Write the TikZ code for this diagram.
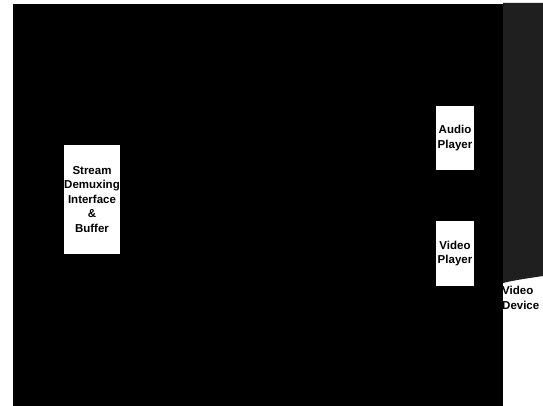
\documentclass[tikz,border=0pt]{standalone}
\usepackage{fontspec}
\setmainfont{Liberation Sans}
\begin{document}
\begin{tikzpicture}[x=1pt,y=-1pt,
  whitebox/.style={fill=white,draw=none,inner sep=0pt,align=center,
    font=\fontsize{11.5}{14.5}\selectfont\bfseries},
  plain/.style={inner sep=0pt,align=left,font=\fontsize{11.5}{14.5}\selectfont\bfseries}]
\useasboundingbox (0,0) rectangle (543,406);
\fill[white] (0,0) rectangle (543,406);
% speckled dark region at right
\fill[black!88] (503,3) -- (543,3) -- (543,276) .. controls (530,278) and (515,280) .. (503,283) -- cycle;
% main black panel
\fill[black] (13,4) rectangle (503,406);
\node[whitebox,minimum width=56pt,minimum height=109pt] (sdib) at (92,199.5)
  {Stream\\Demuxing\\Interface\\\&\\Buffer};
\node[whitebox,minimum width=38pt,minimum height=64pt] (ap) at (455,138)
  {Audio\\Player};
\node[whitebox,minimum width=38pt,minimum height=65pt] (vp) at (455,253.5)
  {Video\\Player};
\node[plain,anchor=north west] (vd) at (502,286) {Video\\Device};
\end{tikzpicture}
\end{document}
